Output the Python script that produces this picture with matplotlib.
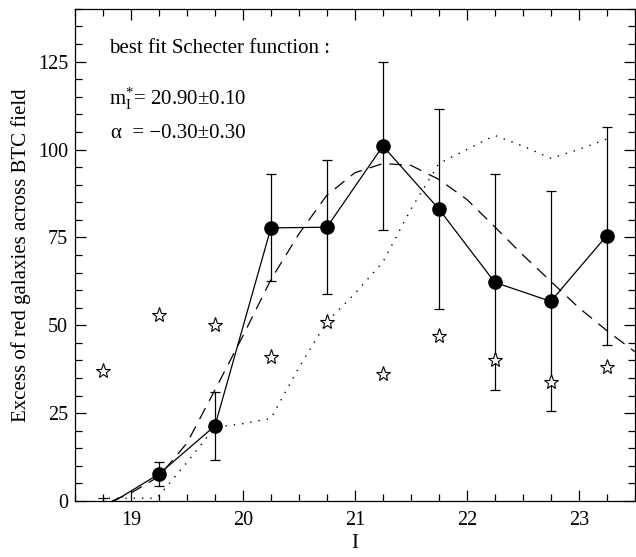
import matplotlib
matplotlib.use("Agg")
import matplotlib.pyplot as plt
from matplotlib.ticker import MultipleLocator

plt.rcParams['font.family'] = ['Liberation Serif', 'DejaVu Serif']
plt.rcParams['mathtext.fontset'] = 'custom'
plt.rcParams['mathtext.rm'] = 'Liberation Serif'
plt.rcParams['mathtext.it'] = 'Liberation Serif:italic'

# data
mag = [18.75, 19.25, 19.75, 20.25, 20.75, 21.25, 21.75, 22.25, 22.75, 23.25]
excess = [-2.0, 7.7, 21.4, 77.7, 77.9, 101.0, 83.1, 62.2, 56.8, 75.5]
excess_err = [2.8, 3.5, 9.7, 15.2, 19.0, 24.0, 28.5, 30.7, 31.3, 31.0]
stars = [37, 53, 50, 41, 51, 36, 47, 40, 34, 38]

fit_x = [18.83, 19.0, 19.25, 19.5, 19.75, 20.0, 20.25, 20.5, 20.75, 21.0,
         21.25, 21.5, 21.75, 22.0, 22.25, 22.5, 22.75, 23.0, 23.25, 23.5]
fit_y = [0, 2.3, 7, 16.5, 31.6, 47, 63, 76, 87, 93.4,
         96, 95.5, 91.5, 85.8, 78, 70, 62.5, 55, 48.5, 42.5]

dot_x = [18.8, 19.2, 19.25, 19.5, 19.75, 20.0, 20.25, 20.5, 20.75, 21.0,
         21.25, 21.5, 21.75, 22.0, 22.25, 22.5, 22.75, 23.0, 23.25]
dot_y = [0.8, 0.8, 1.5, 11, 21, 22, 23.5, 38, 51, 59,
         68, 83, 96, 100, 104, 101, 97.5, 100, 103]

fig = plt.figure(figsize=(6.36, 5.57), dpi=100)
ax = fig.add_axes([0.118, 0.1005, 0.880, 0.8835])

ax.plot(dot_x, dot_y, color='black', lw=1.0, linestyle=(0, (1, 5)))
ax.plot(fit_x, fit_y, color='black', lw=0.9, linestyle=(0, (10, 6.5)))
ax.errorbar(mag, excess, yerr=excess_err, fmt='-o', color='black', lw=0.9,
            elinewidth=0.9, capsize=3.5, capthick=0.9, markersize=9.5)
ax.plot(mag, stars, linestyle='none', marker='*', markersize=11,
        markerfacecolor='white', markeredgecolor='black', markeredgewidth=0.8)

ax.set_xlim(18.5, 23.5)
ax.set_ylim(0, 140)
ax.xaxis.set_major_locator(MultipleLocator(1))
ax.xaxis.set_minor_locator(MultipleLocator(0.25))
ax.yaxis.set_major_locator(MultipleLocator(25))
ax.yaxis.set_minor_locator(MultipleLocator(5))
ax.tick_params(which='both', direction='in', top=True, right=True, labelsize=14.5, width=0.9)
ax.tick_params(which='major', length=8)
ax.tick_params(which='minor', length=5)
ax.tick_params(axis='x', pad=7)
ax.tick_params(axis='y', pad=5)

ax.set_xlabel('I', fontsize=15, labelpad=3)
ax.set_ylabel('Excess of red galaxies across BTC field', fontsize=15, labelpad=5)

ax.text(18.80, 128.6, 'best fit Schecter function :', fontsize=15, va='center', ha='left')
ax.text(18.80, 114.5, r'm$_{\rm I}^{*}$= 20.90±0.10', fontsize=15, va='center', ha='left')
ax.text(18.82, 104.5, 'α  = −0.30±0.30', fontsize=15, va='center', ha='left')

for s in ax.spines.values():
    s.set_linewidth(0.9)

fig.savefig('out.png', dpi=100)
